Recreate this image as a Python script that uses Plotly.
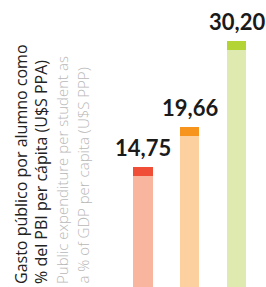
import plotly.graph_objects as go

categories = ["A", "B", "C"]
values = [14.75, 19.66, 30.20]
labels = ["14,75", "19,66", "30,20"]
body_colors = ["#f9b59d", "#fdd09f", "#dfeab0"]
cap_colors = ["#f04e37", "#f7941d", "#b4d334"]

title_es = ["Gasto público por alumno como", "% del PBI per cápita (U$S PPA)"]
title_en = ["Public expenditure per student as", "a % of GDP per capita (U$S PPP)"]

CAP = 1.1  # thickness of the darker top band, in data units
W, H = 266, 287

fig = go.Figure()
fig.add_trace(go.Bar(x=categories, y=[v - CAP for v in values],
                     marker=dict(color=body_colors, line=dict(width=0)),
                     width=0.41, hoverinfo="skip"))
fig.add_trace(go.Bar(x=categories, y=[CAP] * len(values),
                     marker=dict(color=cap_colors, line=dict(width=0)),
                     width=0.41, hoverinfo="skip"))

for c, v, t in zip(categories, values, labels):
    fig.add_annotation(x=c, y=v, text=f"<b>{t}</b>", showarrow=False,
                       xanchor="center", yanchor="bottom", yshift=4,
                       font=dict(family="Lato", size=22, color="#1a1a1a"))

lines = [(title_es[0], "#222222", 21.0, 400, 16),
         (title_es[1], "#222222", 41.0, 400, 16),
         (title_en[0], "#b8b8b8", 62.0, 300, 15),
         (title_en[1], "#b8b8b8", 82.5, 300, 15)]
for txt, col, px, wt, sz in lines:
    fig.add_annotation(xref="paper", yref="paper", x=px / W, y=1 - 286 / H,
                       text=txt, textangle=-90, showarrow=False,
                       xanchor="center", yanchor="bottom",
                       font=dict(family="Open Sans", size=sz, color=col, weight=wt))

fig.update_layout(
    width=W, height=H, barmode="stack", showlegend=False,
    margin=dict(l=0, r=0, t=0, b=0),
    paper_bgcolor="white", plot_bgcolor="white",
    xaxis=dict(domain=[96 / W, 1], range=[-1.005, 2.631], visible=False),
    yaxis=dict(range=[0, 35.2], visible=False),
)
fig.write_html("out.html", config={"displayModeBar": False},
               post_script="document.body.style.margin='0';")
